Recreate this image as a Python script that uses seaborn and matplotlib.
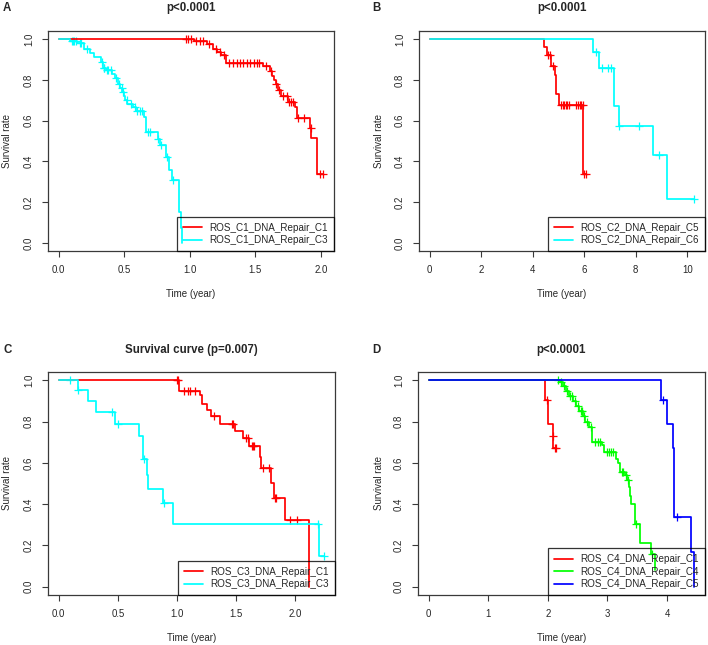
import numpy as np
import matplotlib
matplotlib.use('Agg')
import matplotlib.pyplot as plt
import seaborn as sns

# %% dados (tempo do evento, sobrevida apos o evento, tempos censurados)
# painel A
a_c1_eventos = [1.03, 1.13, 1.18, 1.21, 1.24, 1.28, 1.56, 1.61, 1.63, 1.645, 1.655, 1.67, 1.70, 1.75, 1.80, 1.82, 1.92, 1.925, 1.97]
a_c1_sobrev = [0.99, 0.975, 0.95, 0.935, 0.92, 0.885, 0.87, 0.845, 0.82, 0.80, 0.78, 0.75, 0.72, 0.69, 0.665, 0.615, 0.562, 0.513, 0.34]
a_c1_censura = [0.97, 0.99, 1.01, 1.05, 1.08, 1.10, 1.15, 1.20, 1.23, 1.26, 1.30, 1.33, 1.36, 1.38, 1.41, 1.44,
                1.46, 1.49, 1.51, 1.53, 1.58, 1.62, 1.66, 1.68, 1.71, 1.74, 1.76, 1.77, 1.79, 1.83, 1.87, 1.922, 1.995, 2.02]
a_c3_eventos = [0.09, 0.14, 0.19, 0.24, 0.27, 0.32, 0.34, 0.36, 0.41, 0.43, 0.45, 0.47, 0.485, 0.50, 0.51, 0.525,
                0.57, 0.59, 0.653, 0.668, 0.755, 0.775, 0.82, 0.84, 0.865, 0.92, 0.93, 0.94]
a_c3_sobrev = [0.99, 0.98, 0.95, 0.93, 0.91, 0.89, 0.86, 0.85, 0.83, 0.81, 0.78, 0.76, 0.74, 0.72, 0.70, 0.68,
               0.665, 0.645, 0.62, 0.546, 0.51, 0.48, 0.42, 0.36, 0.31, 0.15, 0.075, 0.0]
a_c3_censura = [0.10, 0.11, 0.12, 0.13, 0.16, 0.17, 0.22, 0.33, 0.345, 0.35, 0.37, 0.38, 0.40, 0.44, 0.46, 0.48,
                0.49, 0.52, 0.55, 0.58, 0.60, 0.62, 0.64, 0.68, 0.70, 0.76, 0.78, 0.83, 0.87]

# painel B
b_c5_eventos = [4.46, 4.54, 4.70, 4.86, 4.92, 5.02, 5.96]
b_c5_sobrev = [0.96, 0.92, 0.87, 0.825, 0.73, 0.675, 0.338]
b_c5_censura = [4.60, 4.68, 4.78, 5.10, 5.16, 5.22, 5.28, 5.34, 5.42, 5.70, 5.76, 5.82, 5.88, 5.94, 5.99, 6.08]
b_c6_eventos = [6.34, 6.57, 7.15, 7.35, 8.68, 9.2]
b_c6_sobrev = [0.935, 0.86, 0.672, 0.574, 0.431, 0.213]
b_c6_censura = [6.47, 6.70, 6.92, 7.05, 7.37, 8.12, 8.90, 10.28]

# painel C
c_c1_eventos = [1.015, 1.02, 1.19, 1.21, 1.25, 1.29, 1.36, 1.49, 1.56, 1.61, 1.70, 1.71, 1.795, 1.815, 1.915, 2.118]
c_c1_sobrev = [0.975, 0.95, 0.93, 0.886, 0.854, 0.826, 0.789, 0.756, 0.72, 0.683, 0.626, 0.577, 0.504, 0.431, 0.322, 0.0]
c_c1_censura = [0.996, 1.01, 1.06, 1.09, 1.11, 1.15, 1.31, 1.46, 1.47, 1.585, 1.60, 1.63, 1.64, 1.65, 1.725, 1.78,
                1.823, 1.837, 1.95, 2.01]
c_c3_eventos = [0.16, 0.247, 0.317, 0.477, 0.682, 0.71, 0.743, 0.757, 0.878, 0.968, 2.20]
c_c3_sobrev = [0.951, 0.899, 0.846, 0.789, 0.728, 0.618, 0.54, 0.472, 0.406, 0.304, 0.151]
c_c3_censura = [0.098, 0.165, 0.454, 0.505, 0.72, 0.889, 2.19, 2.244]

# painel D
d_c1_eventos = [1.95, 2.01, 2.08, 2.09]
d_c1_sobrev = [0.902, 0.788, 0.732, 0.673]
d_c1_censura = [1.99, 2.085, 2.12, 2.14]
d_c4_eventos = [2.21, 2.25, 2.306, 2.36, 2.42, 2.47, 2.53, 2.59, 2.63, 2.69, 2.74, 2.91, 2.95, 3.15, 3.18, 3.21,
                3.29, 3.33, 3.37, 3.385, 3.39, 3.47, 3.54, 3.73, 3.80]
d_c4_sobrev = [0.99, 0.972, 0.948, 0.923, 0.899, 0.874, 0.85, 0.825, 0.80, 0.776, 0.703, 0.686, 0.654, 0.621, 0.597,
               0.556, 0.54, 0.515, 0.482, 0.44, 0.40, 0.302, 0.213, 0.16, 0.08]
d_c4_censura = [2.17, 2.22, 2.28, 2.33, 2.38, 2.40, 2.45, 2.50, 2.55, 2.57, 2.61, 2.66, 2.72, 2.80, 2.84, 2.87,
                2.99, 3.03, 3.06, 3.09, 3.24, 3.26, 3.31, 3.35, 3.48, 3.75]
d_c5_eventos = [3.90, 4.00, 4.10, 4.12, 4.40, 4.46]
d_c5_sobrev = [0.902, 0.788, 0.673, 0.337, 0.168, 0.0]
d_c5_censura = [3.93, 4.17]

ticks_x_a = [0, 0.5, 1.0, 1.5, 2.0]
ticks_x_b = [0, 2, 4, 6, 8, 10]
ticks_x_c = [0, 0.5, 1.0, 1.5, 2.0]
ticks_x_d = [0, 1, 2, 3, 4]
ticks_y = [0.0, 0.2, 0.4, 0.6, 0.8, 1.0]

titulos = ['p<0.0001', 'p<0.0001', 'Survival curve (p=0.007)', 'p<0.0001']
letras = ['A', 'B', 'C', 'D']

# %%
sns.set_style('white')
plt.rcParams['font.family'] = ['Liberation Sans', 'DejaVu Sans']

COR_EIXO = '#3a3a3a'
FS = 7.0       # rotulos dos eixos
FS_LEG = 7.1
FS_TICK = 6.9

W, H = 708, 645
fig = plt.figure(figsize=(W / 100, H / 100), dpi=100)


def eixo(x0, y0, x1, y1):
    return fig.add_axes([x0 / W, 1 - y1 / H, (x1 - x0) / W, (y1 - y0) / H])


def curva(ax, eventos, sobrev, censura, cor, nome):
    fim = max(max(eventos), max(censura))
    xs = [0] + list(eventos) + [fim]
    ys = [1.0] + list(sobrev) + [sobrev[-1]]
    sns.lineplot(x=xs, y=ys, ax=ax, color=cor, linewidth=1.25, estimator=None, sort=False,
                 drawstyle='steps-post', label=nome)
    degraus = np.array([1.0] + list(sobrev))
    idx = np.searchsorted(np.array(eventos), np.array(censura), side='right')
    sns.scatterplot(x=censura, y=degraus[idx], ax=ax, color=cor, marker='+', s=40,
                    linewidth=0.9, legend=False)


def formata(ax, ticks_x, xmax):
    ax.set_xlim(-0.04 * xmax, 1.04 * xmax)
    ax.set_ylim(-0.04, 1.04)
    ax.set_xticks(ticks_x)
    ax.set_xticklabels([f'{t:.1f}' if xmax < 3 else f'{t:g}' for t in ticks_x], fontsize=FS_TICK)
    ax.set_yticks(ticks_y)
    ax.set_yticklabels([f'{t:.1f}' for t in ticks_y], fontsize=FS_TICK, rotation=90, va='center')
    ax.tick_params(direction='out', length=4, width=0.8, color=COR_EIXO, pad=6, bottom=True, left=True)
    for sp in ax.spines.values():
        sp.set_color(COR_EIXO)
        sp.set_linewidth(0.9)
    ax.set_xlabel('')
    ax.set_ylabel('')
    leg = ax.legend(loc='lower right', fontsize=FS_LEG, handlelength=1.9, handletextpad=0.8,
                    borderpad=0.6, labelspacing=0.25, borderaxespad=0, fancybox=False,
                    frameon=True, facecolor='none', edgecolor='black')
    leg.get_frame().set_linewidth(0.9)
    for ln in leg.get_lines():
        ln.set_linewidth(1.25)


# posicoes em pixels (x0, y0, x1, y1)
ax_a = eixo(48, 31, 334, 251)
ax_b = eixo(419, 31, 705, 251)
ax_c = eixo(48, 372, 335, 595)
ax_d = eixo(418, 372, 705, 595)

curva(ax_a, a_c1_eventos, a_c1_sobrev, a_c1_censura, '#ff0000', 'ROS_C1_DNA_Repair_C1')
curva(ax_a, a_c3_eventos, a_c3_sobrev, a_c3_censura, '#00ffff', 'ROS_C1_DNA_Repair_C3')
curva(ax_b, b_c5_eventos, b_c5_sobrev, b_c5_censura, '#ff0000', 'ROS_C2_DNA_Repair_C5')
curva(ax_b, b_c6_eventos, b_c6_sobrev, b_c6_censura, '#00ffff', 'ROS_C2_DNA_Repair_C6')
curva(ax_c, c_c1_eventos, c_c1_sobrev, c_c1_censura, '#ff0000', 'ROS_C3_DNA_Repair_C1')
curva(ax_c, c_c3_eventos, c_c3_sobrev, c_c3_censura, '#00ffff', 'ROS_C3_DNA_Repair_C3')
curva(ax_d, d_c1_eventos, d_c1_sobrev, d_c1_censura, '#ff0000', 'ROS_C4_DNA_Repair_C1')
curva(ax_d, d_c4_eventos, d_c4_sobrev, d_c4_censura, '#00ff00', 'ROS_C4_DNA_Repair_C4')
curva(ax_d, d_c5_eventos, d_c5_sobrev, d_c5_censura, '#0000ff', 'ROS_C4_DNA_Repair_C5')

formata(ax_a, ticks_x_a, 2.02)
formata(ax_b, ticks_x_b, 10.28)
formata(ax_c, ticks_x_c, 2.244)
formata(ax_d, ticks_x_d, 4.46)

# textos (titulos, letras, rotulos dos eixos)
paineis = [(48, 334, 31, 251, 7, 8, 3), (419, 705, 31, 251, 379, 8, 372),
           (48, 335, 372, 595, 7, 350, 3), (418, 705, 372, 595, 379, 350, 372)]
for i, (x0, x1, y0, y1, xlab, ytit, xlet) in enumerate(paineis):
    cx = (x0 + x1) / 2
    fig.text(cx / W, 1 - ytit / H, titulos[i], ha='center', va='center', fontsize=8.3, fontweight='bold')
    fig.text(xlet / W, 1 - ytit / H, letras[i], ha='left', va='center', fontsize=8.3, fontweight='bold')
    fig.text(xlab / W, 1 - ((y0 + y1) / 2) / H, 'Survival rate', ha='center', va='center',
             rotation=90, fontsize=FS)
    fig.text(cx / W, 1 - (y1 + 43) / H, 'Time (year)', ha='center', va='center', fontsize=FS)

fig.savefig('out.png', dpi=100, facecolor='white')
